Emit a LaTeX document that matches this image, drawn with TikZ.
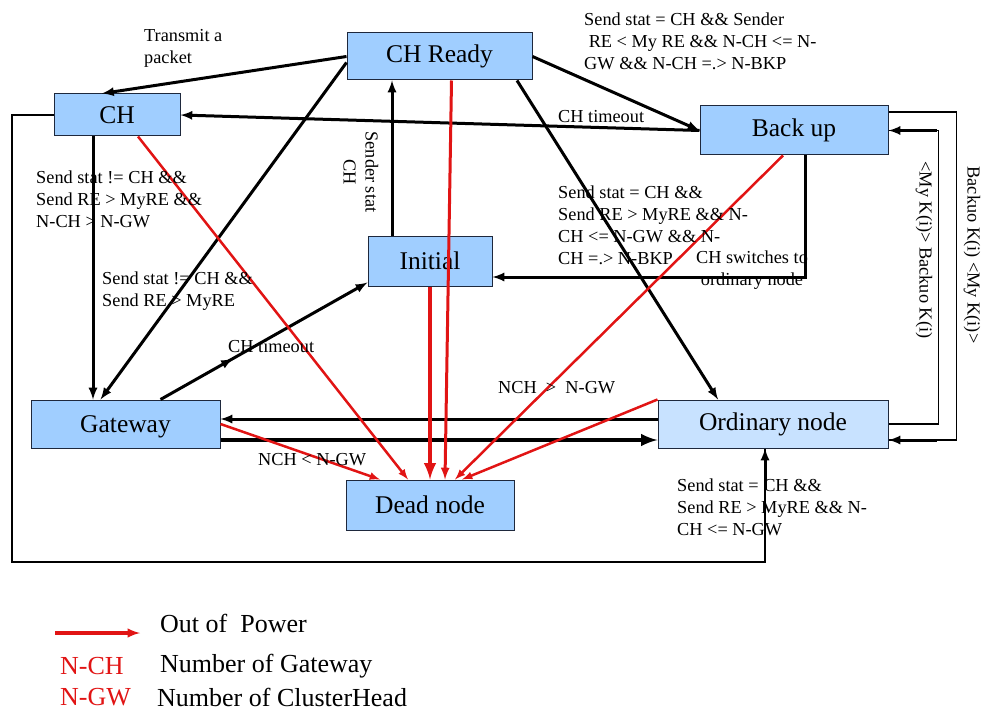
\documentclass[tikz,border=0pt]{standalone}
\usepackage{fontspec}
\setmainfont{Liberation Serif}
\usepackage{xcolor}
\usetikzlibrary{decorations.markings}
\definecolor{stateblue}{RGB}{160,206,255}
\definecolor{ordblue}{RGB}{200,226,255}
\definecolor{statedraw}{RGB}{30,40,60}
\definecolor{power}{RGB}{225,20,20}
\tikzstyle{state}=[draw=statedraw, fill=stateblue, line width=1pt, inner sep=0pt, font=\fontsize{25.5}{28}\selectfont]
\tikzset{trans/.style={-latex, line width=3pt}}
\tikzset{thintrans/.style={line width=1.4pt}}
\tikzset{outpower/.style={-latex, line width=2.5pt, color=power}}
\tikzset{cond/.style={font=\fontsize{18.3}{22}\selectfont, align=left, inner sep=0pt, anchor=west}}
\tikzset{legend/.style={font=\fontsize{26}{28}\selectfont, inner sep=0pt, anchor=west}}
\tikzset{midarrow/.style={postaction={decorate, decoration={markings, mark=at position 0.35 with {\arrow{latex}}}}}}

\begin{document}
\begin{tikzpicture}[x=1pt, y=-1pt]
  \useasboundingbox (0,0) rectangle (981,711);

  \draw (439.5,56.5) node[state, minimum width=185, minimum height=47] (chr) {CH Ready};
  \draw (117,115) node[state, minimum width=126, minimum height=42] (ch) {CH};
  \draw (794,130.5) node[state, minimum width=188, minimum height=49] (bk) {Back up};
  \draw (430,261) node[state, minimum width=124, minimum height=50] (ini) {Initial};
  \draw (125.5,424) node[state, minimum width=189, minimum height=48, text depth=-4pt] (gw) {Gateway};
  \draw (773,424) node[state, fill=ordblue, minimum width=230, minimum height=48] (ord) {Ordinary node};
  \draw (430,505) node[state, minimum width=168, minimum height=50] (dead) {Dead node};
  \coordinate (loop) at (12,562);

  %% Transitions
  \draw[trans] (chr.west) -- ([xshift=-15pt]ch.north);
  \draw[trans] ([yshift=-6pt]chr.west) -- ([xshift=-25pt]gw.north);
  \draw[trans] ([xshift=-24pt]ch.south) -- ([xshift=-32.5pt]gw.north);
  \draw[trans] (bk.west) -- (ch.east);
  \draw[trans] (chr.east) -- (bk.west);
  \draw[trans] ([xshift=77.5pt]chr.south) -- ([xshift=-55pt]ord.north);
  \draw[trans] ([xshift=-38pt]ini.north) -- ([xshift=-47.5pt]chr.south);
  \draw[trans, midarrow] ([xshift=35pt]gw.north) -- ([yshift=4pt]ini.south west);
  \draw[trans] ([xshift=11pt]bk.south) |- ([yshift=-16pt]ini.east);
  \draw[trans] ([yshift=5pt]ord.west) -- ([yshift=5pt]gw.east);
  \draw[trans, line width=4.5pt] ([yshift=-16pt]gw.east) -- ([yshift=-16pt]ord.west);
  \draw[thintrans] ([yshift=18.5pt]bk.east) -- ++(68,0) |- ([yshift=-16pt]ord.east);
  \draw[trans] ([xshift=48pt,yshift=-16pt]ord.east) -- ([yshift=-16pt]ord.east);
  \draw[thintrans] (ord.east) -- ++(50,0) |- (bk.east);
  \draw[trans] ([xshift=48pt]bk.east) -- (bk.east);
  \draw[thintrans] (ch.west) -| (loop) -| ([xshift=-8pt]ord.south);
  \draw[trans] ([xshift=-8pt,yshift=-40pt]ord.south) -- ([xshift=-8pt]ord.south);

  %% Out of power
  \draw[outpower] ([xshift=21pt]ch.south) -- ([xshift=-22pt]dead.north);
  \draw[outpower, line width=3pt] ([xshift=12pt]chr.south) -- ([xshift=15pt]dead.north);
  \draw[outpower, line width=4.5pt] (ini.south) -- (dead.north);
  \draw[outpower] ([xshift=-11pt]bk.south) -- ([xshift=25pt]dead.north);
  \draw[outpower] (ord.north west) -- ([xshift=32pt]dead.north);
  \draw[outpower] (gw.east) -- ([xshift=-50pt]dead.north);

  %% Conditions
  \node[cond] (c1) at (144,48) {Transmit a\\packet};
  \node[cond] (c2) at (36,199) {Send stat != CH \&\&\\Send RE > MyRE \&\&\\N-CH > N-GW};
  \node[cond] (c3) at (102,291) {Send stat != CH \&\&\\Send RE > MyRE};
  \node[cond] (c4) at (558,117) {CH timeout};
  \node[cond] (c5) at (584,41) {Send stat = CH \&\& Sender\\\ RE < My RE \&\& N-CH <= N-\\GW \&\& N-CH =.> N-BKP};
  \node[cond] (c6) at (558,225) {Send stat = CH \&\&\\Send RE > MyRE \&\& N-\\CH <= N-GW \&\& N-\\CH =.> N-BKP};
  \node[cond, align=center, anchor=center] (c7) at (752,270) {CH switches to\\ordinary node};
  \node[cond] (c8) at (228,347) {CH timeout};
  \node[cond] (c9) at (498,388) {NCH \ > \ N-GW};
  \node[cond] (c10) at (258,460) {NCH < N-GW};
  \node[cond] (c11) at (677,507) {Send stat = CH \&\&\\Send RE > MyRE \&\& N-\\CH <= N-GW};
  \node[cond, align=center, anchor=center, rotate=-90] (c12) at (361,172) {Sender stat\\CH};
  \node[cond, anchor=center, rotate=-90] (c13) at (924,250) {<My K(i)> Backuo K(i)};
  \node[cond, anchor=center, rotate=-90] (c14) at (972,255) {Backuo K(i) <My K(i)>};

  %% Legend things
  \coordinate (leg) at (55,633);
  \draw[outpower, line width=3.2pt] (leg) -- ++(85,0);
  \node[legend] (l1) at (160,623) {Out of \ Power};
  \node[legend, text=power] (l2) at (60,666) {N-CH};
  \node[legend] (l3) at (160,666) {Number of Gateway};
  \node[legend, text=power] (l4) at (60,697) {N-GW};
  \node[legend] (l5) at (157,697) {Number of ClusterHead};
\end{tikzpicture}
\end{document}
